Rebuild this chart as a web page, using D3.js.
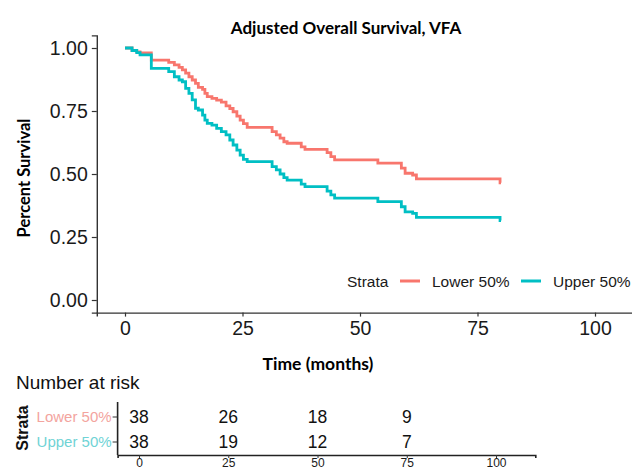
<!DOCTYPE html>
<html>
<head>
<meta charset="utf-8">
<script src="https://cdn.jsdelivr.net/npm/d3@7"></script>
<style>
  body { margin: 0; background: #fff; }
  text { font-family: "Liberation Sans", Arial, sans-serif; }
  .bold { font-family: Lato, "Open Sans", sans-serif; font-weight: 700; }
</style>
</head>
<body>
<svg width="632" height="471"></svg>
<script>
// step times (months) and adjusted survival for each stratum
var times = [0, 1.5, 2.5, 3.2, 5.6, 9.3, 10.5, 11.5, 12.2, 12.9, 13.6, 14.3, 15.0, 15.6, 16.5, 17.0, 17.5,
             18.5, 19.5, 20.5, 21.5, 22.3, 23.0, 23.8, 24.5, 25.2, 26.0, 31.3, 32.2, 33.0, 33.8, 34.5,
             37.5, 38.3, 43.0, 43.8, 44.6, 53.8, 58.8, 59.6, 61.2, 62.0, 79.8, 80];
var lower = [1, 0.99, 0.985, 0.981, 0.952, 0.943, 0.933, 0.923, 0.913, 0.9, 0.886, 0.873, 0.86, 0.844, 0.836, 0.82, 0.807,
             0.8, 0.793, 0.785, 0.77, 0.76, 0.747, 0.73, 0.714, 0.70, 0.685, 0.668, 0.655, 0.642, 0.628, 0.622,
             0.608, 0.598, 0.585, 0.569, 0.556, 0.543, 0.523, 0.503, 0.496, 0.481, 0.465, 0.465];
var upper = [1, 0.99, 0.982, 0.973, 0.919, 0.906, 0.886, 0.873, 0.866, 0.84, 0.82, 0.794, 0.761, 0.754, 0.734, 0.714, 0.701,
             0.694, 0.681, 0.668, 0.655, 0.635, 0.615, 0.595, 0.575, 0.558, 0.549, 0.529, 0.516, 0.50, 0.486, 0.476,
             0.46, 0.45, 0.432, 0.417, 0.404, 0.39, 0.37, 0.35, 0.344, 0.328, 0.315, 0.315];
var strata = ["Lower 50%", "Upper 50%"];
var colors = ["#F8766D", "#00BFC4"];
var riskTimes = [0, 25, 50, 75];
var riskLower = [38, 26, 18, 9];
var riskUpper = [38, 19, 12, 7];
var xTicks = [0, 25, 50, 75, 100];
var yTicks = [0, 0.25, 0.5, 0.75, 1];

var svg = d3.select("svg");

var x = d3.scaleLinear().domain([-6, 111]).range([96.8, 646.7]),
    y = d3.scaleLinear().domain([-0.05, 1.05]).range([312.6, 35.4]);

// title
svg.append("text").attr("class", "bold")
    .attr("x", 346).attr("y", 34)
    .attr("text-anchor", "middle")
    .style("font-size", "17px")
    .text("Adjusted Overall Survival, VFA");

// axes
var xAxis = d3.axisBottom(x).tickValues(xTicks).tickSizeOuter(0).tickSize(4).tickPadding(5);
var yAxis = d3.axisLeft(y).tickValues(yTicks).tickSizeOuter(0).tickSize(5).tickPadding(4)
    .tickFormat(d3.format(".2f"));

var gx = svg.append("g").attr("transform", "translate(0," + y.range()[0] + ")").call(xAxis);
var gy = svg.append("g").attr("transform", "translate(" + x.range()[0] + ",0)").call(yAxis);
[gx, gy].forEach(function(g) {
  g.select(".domain").attr("stroke", "#333").attr("stroke-width", 1.4);
  g.selectAll(".tick line").attr("stroke", "#333").attr("stroke-width", 1.2);
  g.selectAll(".tick text").attr("fill", "#1a1a1a").style("font-size", "19.5px")
      .style("font-family", "'Liberation Sans', Arial, sans-serif");
});

svg.append("text").attr("class", "bold")
    .attr("transform", "translate(30,178) rotate(-90)")
    .attr("text-anchor", "middle")
    .style("font-size", "16.5px")
    .text("Percent Survival");

svg.append("text").attr("class", "bold")
    .attr("x", 318).attr("y", 370)
    .attr("text-anchor", "middle")
    .style("font-size", "17.5px")
    .text("Time (months)");

// survival curves
var line = d3.line().curve(d3.curveStepAfter)
    .x(function(d) { return x(d[0]); })
    .y(function(d) { return y(d[1]); });

[lower, upper].forEach(function(s, i) {
  var pts = times.map(function(t, j) { return [t, s[j]]; });
  svg.append("path")
      .attr("d", line(pts))
      .attr("fill", "none")
      .attr("stroke", colors[i])
      .attr("stroke-width", 2.8);
});

// legend
var legY = 281;
svg.append("text").attr("x", 347).attr("y", legY + 5.5)
    .style("font-size", "15.5px").attr("fill", "#1a1a1a").text("Strata");
var legX = [400, 521];
strata.forEach(function(s, i) {
  svg.append("line")
      .attr("x1", legX[i]).attr("x2", legX[i] + 20)
      .attr("y1", legY).attr("y2", legY)
      .attr("stroke", colors[i]).attr("stroke-width", 3);
  svg.append("text").attr("x", legX[i] + 32).attr("y", legY + 5.5)
      .style("font-size", "15.5px").attr("fill", "#1a1a1a").text(s);
});

// number at risk table
svg.append("text").attr("x", 16).attr("y", 389)
    .style("font-size", "19px").attr("fill", "#111").text("Number at risk");

var x2 = d3.scaleLinear().domain([-6, 111]).range([117.6, 535.3]);
var y2 = d3.scaleBand().domain(strata).range([404.5, 454.5]);

var gx2 = svg.append("g").attr("transform", "translate(0,455)")
    .call(d3.axisBottom(x2).tickValues(xTicks).tickSizeOuter(0).tickSize(3).tickPadding(0));
var gy2 = svg.append("g").attr("transform", "translate(" + x2.range()[0] + ",0)")
    .call(d3.axisLeft(y2).tickSizeOuter(0).tickSize(5).tickPadding(1));
gx2.select(".domain").attr("stroke", "#222").attr("stroke-width", 1.6);
gy2.select(".domain").attr("stroke", "#222").attr("stroke-width", 1.6)
    .attr("d", "M0,402V455");
gx2.selectAll(".tick line").attr("stroke", "#333");
gy2.selectAll(".tick line").attr("stroke", "#333");
gx2.selectAll(".tick text").attr("fill", "#1a1a1a").style("font-size", "12px")
    .style("font-family", "'Liberation Sans', Arial, sans-serif");
gy2.selectAll(".tick text")
    .attr("fill", function(d, i) { return i === 0 ? "#F3A49E" : "#6FD3D5"; })
    .style("font-size", "15px")
    .style("font-family", "'Liberation Sans', Arial, sans-serif");

[riskLower, riskUpper].forEach(function(r, i) {
  svg.selectAll(null).data(riskTimes).enter().append("text")
      .attr("x", function(d) { return x2(d); })
      .attr("y", y2(strata[i]) + y2.bandwidth() / 2 + 6)
      .attr("text-anchor", "middle")
      .style("font-size", "17.5px")
      .attr("fill", "#111")
      .text(function(d, j) { return r[j]; });
});

svg.append("text")
    .attr("transform", "translate(28,428) rotate(-90)")
    .attr("text-anchor", "middle")
    .style("font-size", "16px")
    .style("font-weight", "bold")
    .attr("fill", "#111")
    .text("Strata");
</script>
</body>
</html>
